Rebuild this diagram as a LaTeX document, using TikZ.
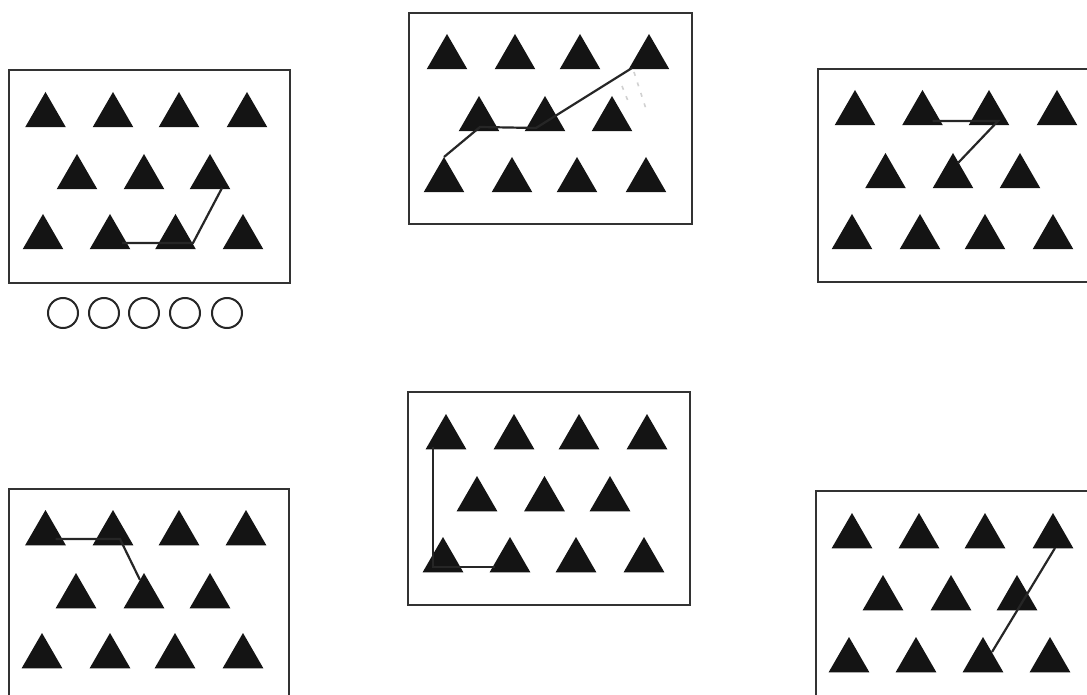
\documentclass[tikz,border=0pt]{standalone}
\usetikzlibrary{shapes.geometric,calc}
\begin{document}
\begin{tikzpicture}[x=1pt,y=-1pt,
  tri/.style={regular polygon,regular polygon sides=3,minimum size=47pt,inner sep=0pt,outer sep=0pt,fill=black!92,draw=none},
  frame/.style={draw=black!80,line width=2.4pt},
  link/.style={draw=black!85,line width=2.2pt},
  ring/.style={circle,draw=black!85,line width=2pt,minimum size=30pt,inner sep=0pt},
  ghost/.style={draw=black!18,line width=1.6pt,dash pattern=on 4pt off 7pt}]
\useasboundingbox (0,0) rectangle (1087,695);
\clip (0,0) rectangle (1087,695);
% frames
\node[frame,anchor=north west,minimum width=281pt,minimum height=213pt,inner sep=0pt] (A) at (8,69) {};
\node[frame,anchor=north west,minimum width=283pt,minimum height=211pt,inner sep=0pt] (B) at (408,12) {};
\node[frame,anchor=north west,minimum width=290pt,minimum height=213pt,inner sep=0pt] (C) at (817,68) {};
\node[frame,anchor=north west,minimum width=280pt,minimum height=230pt,inner sep=0pt] (D) at (8,488) {};
\node[frame,anchor=north west,minimum width=282pt,minimum height=213pt,inner sep=0pt] (E) at (407,391) {};
\node[frame,anchor=north west,minimum width=290pt,minimum height=230pt,inner sep=0pt] (F) at (815,490) {};
% triangles
\foreach \n/\x/\y in {
  a11/45.5/115.5, a12/113/115.5, a13/179/115.5, a14/247/115.5,
  a21/77/177.5, a22/144/177.5, a23/210/177.5,
  a31/43/237.5, a32/110/237.5, a33/175.5/237.5, a34/243/237.5,
  b11/447/57.5, b12/515/57.5, b13/580/57.5, b14/649/57.5,
  b21/479/119.5, b22/545/119.5, b23/612/119.5,
  b31/444/180.5, b32/512/180.5, b33/577/180.5, b34/646/180.5,
  c11/855/113.5, c12/922.5/113.5, c13/989/113.5, c14/1057/113.5,
  c21/885.5/176.5, c22/953/176.5, c23/1020/176.5,
  c31/852/237.5, c32/920/237.5, c33/985/237.5, c34/1053/237.5,
  d11/45.5/533.5, d12/113/533.5, d13/179/533.5, d14/246/533.5,
  d21/76/596.5, d22/144/596.5, d23/210/596.5,
  d31/42/656.5, d32/110/656.5, d33/175/656.5, d34/243/656.5,
  e11/446/437.5, e12/514/437.5, e13/579/437.5, e14/647/437.5,
  e21/477/499.5, e22/544.5/499.5, e23/610/499.5,
  e31/443/560.5, e32/510/560.5, e33/576/560.5, e34/644/560.5,
  f11/852/536.5, f12/919/536.5, f13/985/536.5, f14/1053/536.5,
  f21/883/598.5, f22/951/598.5, f23/1017/598.5,
  f31/849/660.5, f32/916/660.5, f33/983/660.5, f34/1050/660.5}
  \node[tri] (\n) at (\x,\y) {};
% connectors
\draw[link] ($(a32)+(12,5.5)$) -- ($(a33)+(17.5,5.5)$) -- ($(a23)+(12,10.5)$);
\draw[link] (b31.corner 1) -- ($(b21)+(1,7.5)$) -- ($(b22)+(-9,8.5)$) -- ($(b14)+(-17,10.5)$);
\draw[link] ($(c12)+(10,7.5)$) -- ($(c13)+(9,7.5)$) -- ($(c22)+(5,-13.5)$);
\draw[link] ($(d11)+(10,5.5)$) -- ($(d12)+(7,5.5)$) -- ($(d22)+(-4,-16.5)$);
\draw[link] ($(e11)+(-13,9.5)$) -- ($(e31)+(-10,6.5)$) -- ($(e32)+(-15,6.5)$);
\draw[link] ($(f14)+(2,11.5)$) -- ($(f33)+(9,-8.5)$);
% faint marks
\coordinate (g1) at (622,86);
\coordinate (g2) at (630,106);
\coordinate (g3) at (634,72);
\coordinate (g4) at (646,109);
\draw[ghost] (g1) -- (g2);
\draw[ghost] (g3) -- (g4);
% circles
\foreach \n/\x in {o1/63,o2/104,o3/144,o4/185,o5/227}
  \node[ring] (\n) at (\x,313) {};
\end{tikzpicture}
\end{document}
